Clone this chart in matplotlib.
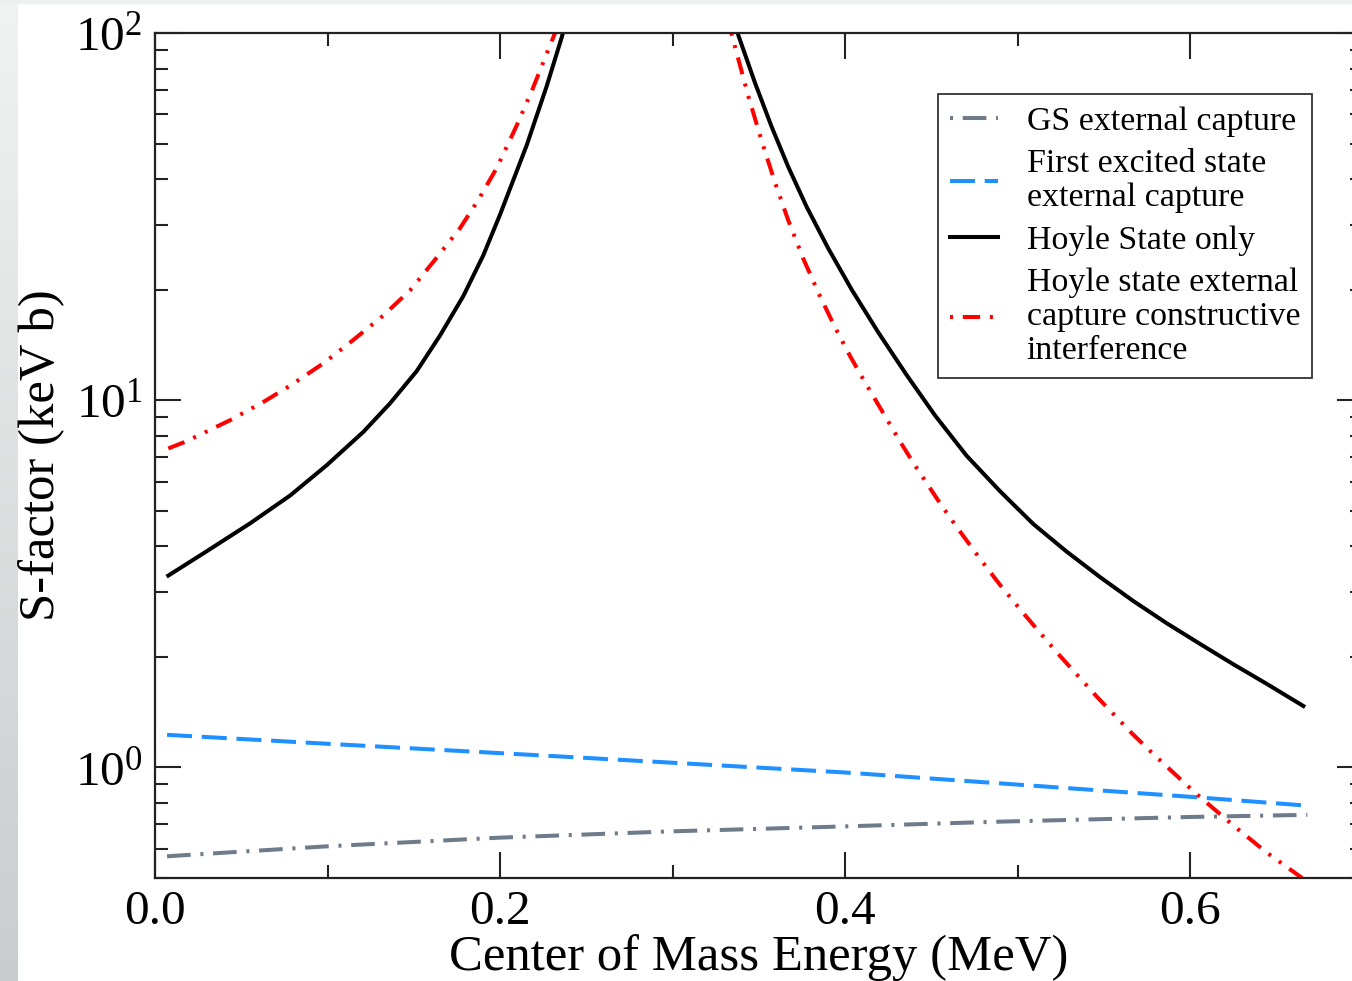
import matplotlib
matplotlib.use("Agg")
import matplotlib.pyplot as plt
import numpy as np
from matplotlib.lines import Line2D
from matplotlib.ticker import LogLocator, MultipleLocator, NullFormatter, FormatStrFormatter

plt.rcParams["font.family"] = ["Liberation Serif", "DejaVu Serif"]
plt.rcParams["mathtext.fontset"] = "custom"
plt.rcParams["mathtext.rm"] = "Liberation Serif"
plt.rcParams["mathtext.it"] = "Liberation Serif:italic"
plt.rcParams["lines.scale_dashes"] = False

# S-factor curves (keV b) vs centre-of-mass energy (MeV)
gs_energy = [0.007, 0.1, 0.2, 0.3, 0.4, 0.49, 0.6, 0.668]
gs_sfactor = [0.573, 0.610, 0.644, 0.670, 0.691, 0.712, 0.733, 0.743]

first_energy = [0.007, 0.1, 0.2, 0.3, 0.4, 0.49, 0.6, 0.668]
first_sfactor = [1.227, 1.16, 1.094, 1.03, 0.969, 0.905, 0.832, 0.787]

# Hoyle state only: branches below and above the resonance
hoyle_lo_energy = [0.0077, 0.030, 0.0551, 0.0783, 0.0995, 0.1208, 0.1362, 0.1517,
                   0.1652, 0.1787, 0.1903, 0.200, 0.2155, 0.227, 0.2357, 0.243]
hoyle_lo_sfactor = [3.33, 3.88, 4.62, 5.50, 6.65, 8.2, 9.8, 12.0,
                    15.0, 19.2, 24.8, 32.0, 49.5, 71.5, 97.0, 130.0]
hoyle_hi_energy = [0.333, 0.3391, 0.3478, 0.3575, 0.3671, 0.3778, 0.3903, 0.4039,
                   0.4193, 0.4358, 0.4522, 0.4705, 0.4899, 0.5092, 0.5285, 0.5478,
                   0.5671, 0.5865, 0.6058, 0.6251, 0.6444, 0.6657]
hoyle_hi_sfactor = [116.0, 95.8, 73.2, 55.5, 43.2, 33.6, 25.9, 20.0,
                    15.3, 11.7, 9.09, 7.06, 5.65, 4.60, 3.87, 3.30,
                    2.84, 2.47, 2.17, 1.91, 1.69, 1.47]

# Hoyle state + external capture, constructive interference
interf_lo_energy = [0.0077, 0.0174, 0.0435, 0.0628, 0.0783, 0.0976, 0.115, 0.1323,
                    0.1478, 0.1613, 0.1768, 0.1874, 0.198, 0.2097, 0.219, 0.2319, 0.239]
interf_lo_sfactor = [7.39, 7.70, 8.82, 9.89, 10.95, 12.6, 14.6, 17.0,
                     19.9, 23.8, 29.4, 35.1, 42.8, 56.0, 70.6, 100.0, 123.0]
interf_hi_energy = [0.330, 0.3372, 0.3440, 0.3517, 0.3594, 0.3671, 0.3758, 0.3855,
                    0.3942, 0.4029, 0.4106, 0.4319, 0.4406, 0.4551, 0.4647, 0.4783,
                    0.4899, 0.5034, 0.5227, 0.5459, 0.5662, 0.5794, 0.6025, 0.6256,
                    0.645, 0.665]
interf_hi_sfactor = [118.0, 88.2, 67.2, 50.8, 39.2, 30.9, 24.3, 19.2,
                     15.8, 13.2, 11.4, 7.72, 6.64, 5.24, 4.52, 3.70,
                     3.14, 2.63, 2.06, 1.56, 1.24, 1.08, 0.857, 0.692,
                     0.584, 0.500]

labels = [
    "GS external capture",
    "First excited state\nexternal capture",
    "Hoyle State only",
    "Hoyle state external\ncapture constructive\ninterference",
]

GS_COLOR, FIRST_COLOR, HOYLE_COLOR, INTERF_COLOR = "#6e7b8b", "#1e90ff", "black", "#ff0000"
GS_DASH = (17, 7, 2.2, 7)
FIRST_DASH = (18, 7)
INTERF_DASH = (12.5, 7, 2.2, 7, 2.2, 7)
LW = 2.9

W, H = 1352, 981
fig = plt.figure(figsize=(W / 100, H / 100), dpi=100)

# grey border strips along the left and top edges
strip = fig.add_axes([0, 0, 18 / W, 1])
grad = np.linspace(0, 1, 256).reshape(-1, 1)
strip.imshow(grad, aspect="auto", cmap=matplotlib.colors.LinearSegmentedColormap.from_list(
    "edge", ["#f1f2f2", "#c9cdcd"]), extent=[0, 1, 1, 0])
strip.set_axis_off()
fig.patches.append(plt.Rectangle((0, 1 - 3 / H), 1, 3 / H, transform=fig.transFigure,
                                 color="#eeefef", zorder=0))

x0, x1 = 155 / W, 1362.5 / W
y0, y1 = 1 - 878 / H, 1 - 33 / H
ax = fig.add_axes([x0, y0, x1 - x0, y1 - y0])

ax.plot(gs_energy, gs_sfactor, color=GS_COLOR, lw=LW, linestyle=(0, GS_DASH))
ax.plot(first_energy, first_sfactor, color=FIRST_COLOR, lw=LW, linestyle=(0, FIRST_DASH))
ax.plot(hoyle_lo_energy, hoyle_lo_sfactor, color=HOYLE_COLOR, lw=LW)
ax.plot(hoyle_hi_energy, hoyle_hi_sfactor, color=HOYLE_COLOR, lw=LW)
ax.plot(interf_lo_energy, interf_lo_sfactor, color=INTERF_COLOR, lw=LW,
        linestyle=(0, INTERF_DASH))
ax.plot(interf_hi_energy, interf_hi_sfactor, color=INTERF_COLOR, lw=LW,
        linestyle=(0, INTERF_DASH))

ax.set_yscale("log")
ax.set_xlim(0, 0.7)
ax.set_ylim(0.5, 100)

ax.xaxis.set_major_locator(MultipleLocator(0.2))
ax.xaxis.set_minor_locator(MultipleLocator(0.1))
ax.xaxis.set_major_formatter(FormatStrFormatter("%.1f"))
ax.yaxis.set_major_locator(LogLocator(base=10))
ax.yaxis.set_minor_locator(LogLocator(base=10, subs=np.arange(2, 10)))
ax.yaxis.set_minor_formatter(NullFormatter())

ax.tick_params(which="both", direction="in", top=True, right=True, width=1.5, colors="#222222")
ax.tick_params(which="major", length=18.5, labelsize=35.5, pad=9, labelcolor="black")
ax.tick_params(which="minor", length=9.5)
for sp in ax.spines.values():
    sp.set_linewidth(1.6)
    sp.set_color("#222222")

ax.set_xlabel("Center of Mass Energy (MeV)", fontsize=36.5, labelpad=0)
ax.set_ylabel("S-factor (keV b)", fontsize=36.5, labelpad=7)

# legend keys start part-way into each dash pattern
handles = [
    Line2D([], [], color=GS_COLOR, lw=LW, linestyle=(24, GS_DASH)),
    Line2D([], [], color=FIRST_COLOR, lw=LW, linestyle=(0, FIRST_DASH)),
    Line2D([], [], color=HOYLE_COLOR, lw=LW),
    Line2D([], [], color=INTERF_COLOR, lw=LW, linestyle=(28.7, INTERF_DASH)),
]
leg = ax.legend(handles, labels,
                loc="upper left", bbox_to_anchor=((938 - 155) / 1207.5, (878 - 94) / 845),
                borderaxespad=0, fontsize=24.4, frameon=True, fancybox=False,
                handlelength=1.42, handletextpad=0.85, labelspacing=0.35,
                borderpad=0.35)
leg.get_frame().set_edgecolor("black")
leg.get_frame().set_linewidth(1.3)
for t in leg.get_texts():
    t.set_linespacing(1.15)

fig.savefig("out.png", dpi=100)
